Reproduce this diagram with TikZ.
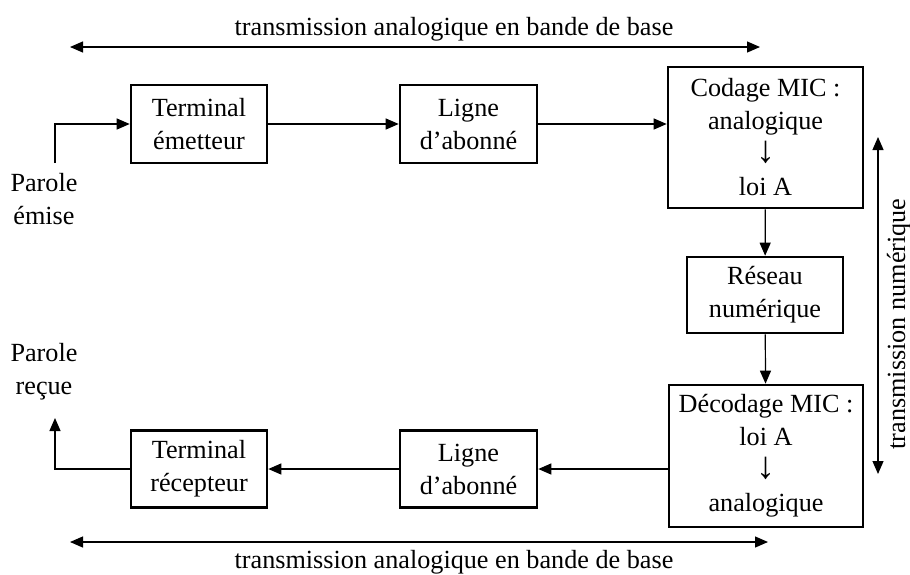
\documentclass[tikz,border=0pt]{standalone}
\usepackage{fontspec}
\setmainfont{Liberation Serif}
\usetikzlibrary{arrows.meta}
\newcommand{\versbas}{{\fontsize{19}{16.5}\selectfont ↓}}

\begin{document}
\begin{tikzpicture}[x = .5pt, y = -.5pt,
    font = \fontsize{13.1}{16.5}\selectfont,
    bloc/.style = {draw, line width = 1.3pt, align = center, inner sep = 0pt},
    fleche/.style = {-{Triangle[length = 6.5pt, width = 5.5pt]}, line width = .6pt},
    portee/.style = {{Triangle[length = 6.5pt, width = 5.5pt]}-{Triangle[length = 6.5pt, width = 5.5pt]}, line width = .6pt}]
    \useasboundingbox (0,0) rectangle (910,574);
    % Blocs
    \node[bloc, minimum width = 68pt, minimum height = 39pt] (te) at (199,124) {Terminal\\émetteur};
    \node[bloc, minimum width = 68.5pt, minimum height = 39pt] (la) at (468.5,124) {Ligne\\d’abonné};
    \node[bloc, minimum width = 97.5pt, minimum height = 70.5pt] (cod) at (765.5,137.5) {Codage MIC :\\analogique\\\versbas\\loi A};
    \node[bloc, minimum width = 78pt, minimum height = 38pt] (res) at (765,295) {Réseau\\numérique};
    \node[bloc, minimum width = 97pt, minimum height = 71pt] (dec) at (766,456) {Décodage MIC :\\loi A\\\versbas\\analogique};
    \node[bloc, minimum width = 68.5pt, minimum height = 38.5pt] (lb) at (468.5,469) {Ligne\\d’abonné};
    \node[bloc, minimum width = 68pt, minimum height = 38.5pt] (tr) at (199,469) {Terminal\\récepteur};
    % Parole
    \node[align = center] (pe) at (44,199) {Parole\\émise};
    \node[align = center] (pr) at (44,372) {Parole\\reçue};
    \coordinate (src) at (55,163);
    \coordinate (dst) at (55,418);
    \draw[fleche] (src) |- (te);
    \draw[fleche] (te) -- (la);
    \draw[fleche] (la) -- (cod.west |- la.east);
    \draw[fleche] (cod) -- (res);
    \draw[fleche] (res) -- (dec);
    \draw[fleche] (dec.west |- lb.east) -- (lb);
    \draw[fleche] (lb) -- (tr);
    \draw[fleche] (tr) -| (dst);
    % Portees
    \coordinate (ha) at (70,47);
    \coordinate (hb) at (760,47);
    \coordinate (ba) at (70,542);
    \coordinate (bb) at (768,542);
    \coordinate (va) at (878,137);
    \coordinate (vb) at (878,474);
    \draw[portee] (ha) -- (hb);
    \draw[portee] (ba) -- (bb);
    \draw[portee] (va) -- (vb);
    \node[anchor = base] (th) at (454,35) {transmission analogique en bande de base};
    \node[anchor = base] (tb) at (454,568) {transmission analogique en bande de base};
    \node[rotate = 90, anchor = base] (tv) at (905,324) {transmission numérique};
\end{tikzpicture}
\end{document}
